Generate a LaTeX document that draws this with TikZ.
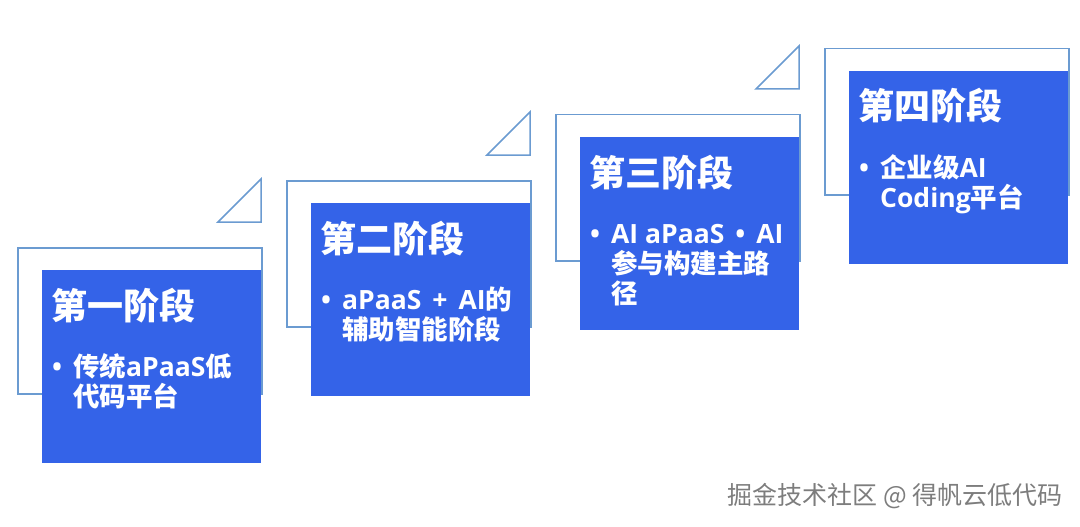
\documentclass[tikz,border=0pt]{standalone}
\usepackage{fontspec}
\setmainfont{Open Sans}
\newfontfamily\cjk{Noto Sans CJK SC}
\definecolor{boxblue}{RGB}{52,99,232}
\definecolor{lineblue}{RGB}{107,155,209}
\definecolor{wmgray}{RGB}{125,125,125}
\newcommand{\wsp}{\hspace{11pt}}
\tikzset{
  outl/.style={draw=lineblue, line width=1.5pt},
  outbox/.style={outl, anchor=north west, inner sep=0pt, minimum width=244pt, minimum height=146pt},
  bluebox/.style={fill=boxblue, draw=none, anchor=north west, inner sep=0pt, minimum width=219pt, minimum height=193pt},
  ttl/.style={anchor=base west, inner sep=0pt, text=white, font=\cjk\bfseries\fontsize{36}{36}\selectfont},
  bodyl/.style={anchor=base west, inner sep=0pt, text=white, font=\bfseries\fontsize{26.5}{30}\selectfont},
  wmark/.style={anchor=base east, inner sep=0pt, text=wmgray, font=\cjk\fontsize{25}{25}\selectfont},
}
\begin{document}
\begin{tikzpicture}[x=1pt,y=-1pt]
\useasboundingbox (0,0) rectangle (1080,527);
% block 1: L=42, T=270, R=261
\node[outbox] (o1) at (17,247) {};
\draw[outl] (218,222) -- (261,179) -- (261,222) -- cycle;
\node[bluebox] (b1) at (42,270) {};
\node[ttl] (t1) at (51,319) {第一阶段};
\node[bodyl] (p1) at (52,376) {•};
\node[bodyl] (l1a) at (73,376) {{\cjk 传统}aPaaS{\cjk 低}};
\node[bodyl] (l1b) at (73,406) {{\cjk 代码平台}};
% block 2: L=311, T=203, R=530
\node[outbox] (o2) at (286,180) {};
\draw[outl] (487,155) -- (530,112) -- (530,155) -- cycle;
\node[bluebox] (b2) at (311,203) {};
\node[ttl] (t2) at (320,252) {第二阶段};
\node[bodyl] (p2) at (321,309) {•};
\node[bodyl] (l2a) at (342,309) {aPaaS\wsp+\wsp AI{\cjk 的}};
\node[bodyl] (l2b) at (342,339) {{\cjk 辅助智能阶段}};
% block 3: L=580, T=137, R=799
\node[outbox] (o3) at (555,114) {};
\draw[outl] (756,89) -- (799,46) -- (799,89) -- cycle;
\node[bluebox] (b3) at (580,137) {};
\node[ttl] (t3) at (589,186) {第三阶段};
\node[bodyl] (p3) at (590,243) {•};
\node[bodyl] (l3a) at (611,243) {AI aPaaS\wsp•\wsp AI};
\node[bodyl] (l3b) at (611,273) {{\cjk 参与构建主路}};
\node[bodyl] (l3c) at (611,303) {{\cjk 径}};
% block 4: L=849, T=71, R=1068
\node[outbox] (o4) at (824,48) {};
\node[bluebox] (b4) at (849,71) {};
\node[ttl] (t4) at (858,120) {第四阶段};
\node[bodyl] (p4) at (859,177) {•};
\node[bodyl] (l4a) at (880,177) {{\cjk 企业级}AI};
\node[bodyl] (l4b) at (880,207) {Coding{\cjk 平台}};
% watermark
\node[wmark] (wm) at (1063,504) {掘金技术社区 @ 得帆云低代码};
\end{tikzpicture}
\end{document}
